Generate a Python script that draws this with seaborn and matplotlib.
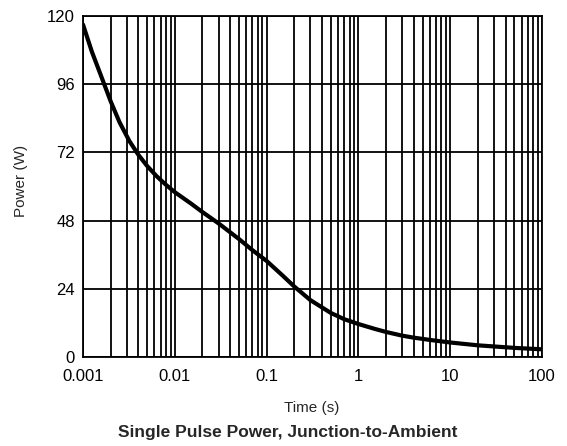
import seaborn as sns
import matplotlib.pyplot as plt
import numpy as np
from matplotlib.ticker import LogLocator, FixedLocator, NullFormatter

# single pulse power curve
time_s = [0.001, 0.00125, 0.0016, 0.002, 0.0025, 0.0032, 0.004, 0.005, 0.0063, 0.008,
          0.01, 0.015, 0.02, 0.03, 0.05, 0.07, 0.1, 0.15, 0.2, 0.3,
          0.5, 0.7, 1, 1.5, 2, 3, 4, 6, 10, 20, 50, 100]
power_w = [117, 107.4, 98.3, 90.0, 82.6, 76.0, 71.2, 67.2, 63.7, 60.6,
           58, 54, 51, 47, 41.5, 37.6, 33.8, 28.6, 24.8, 20,
           15.5, 13.3, 11.6, 9.9, 8.8, 7.5, 6.8, 6, 5.1, 4.1, 3.2, 2.7]
x_ticks = [0.001, 0.01, 0.1, 1, 10, 100]
x_labels = ["0.001", "0.01", "0.1", "1", "10", "100"]
y_ticks = [0, 24, 48, 72, 96, 120]

sns.set_style("white")
plt.rcParams['font.family'] = ['Liberation Sans', 'DejaVu Sans']

fig = plt.figure(figsize=(5.67, 4.46), dpi=100)
ax = fig.add_axes([0.1464, 0.1996, 0.8096, 0.7645])

sns.lineplot(x=time_s, y=power_w, ax=ax, color="black", linewidth=3)

ax.set_xscale("log")
ax.set_xlim(0.001, 100)
ax.set_ylim(0, 120)
ax.xaxis.set_major_locator(FixedLocator(x_ticks))
ax.set_xticklabels(x_labels)
ax.xaxis.set_minor_locator(LogLocator(base=10, subs=np.arange(2, 10)))
ax.xaxis.set_minor_formatter(NullFormatter())
ax.set_yticks(y_ticks)
ax.grid(True, which="both", axis="x", color="black", linewidth=1.3)
ax.grid(True, which="major", axis="y", color="black", linewidth=1.3)
ax.tick_params(which="both", length=0, labelsize=12, colors="black")
ax.tick_params(axis="x", pad=9)
ax.tick_params(axis="y", pad=6)
for s in ax.spines.values():
    s.set_color("black")
    s.set_linewidth(1.3)
ax.set_xlabel("")
ax.set_ylabel("")

fig.text(312 / 567, 1 - 408 / 446, "Time (s)", ha="center", va="center", fontsize=11)
fig.text(21 / 567, 1 - 181 / 446, "Power (W)", ha="center", va="center",
         rotation=90, fontsize=11)
fig.text(288 / 567, 1 - 432 / 446, "Single Pulse Power, Junction-to-Ambient",
         ha="center", va="center", fontsize=12.5, fontweight="bold")

plt.savefig("out.png", dpi=100)
